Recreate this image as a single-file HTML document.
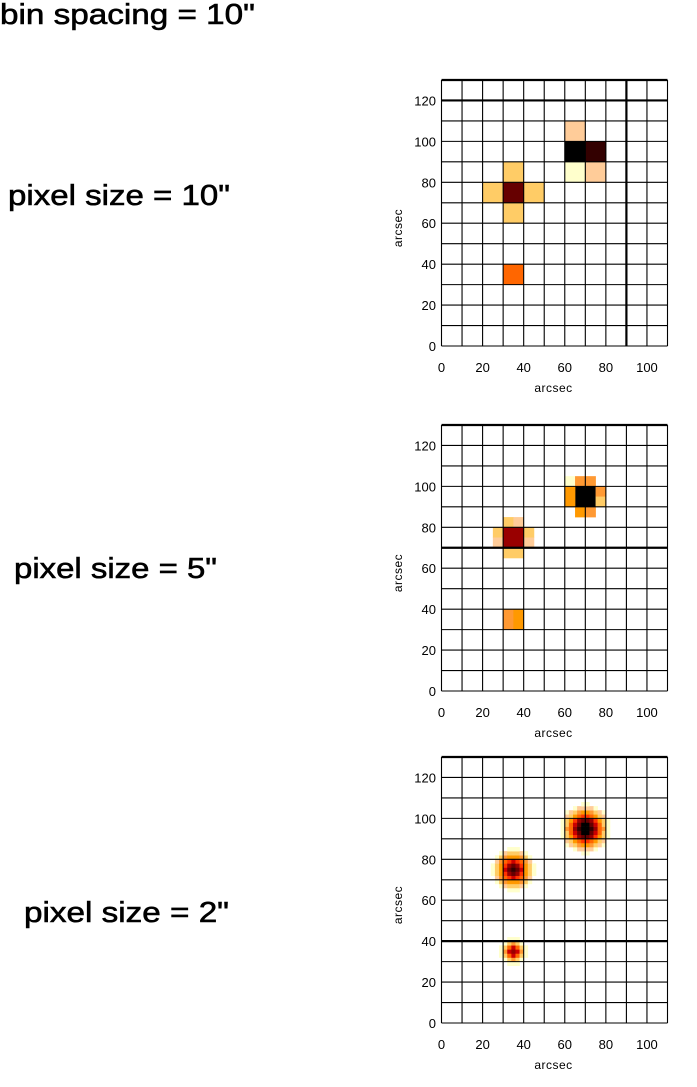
<!DOCTYPE html>
<html><head><meta charset="utf-8"><style>
html,body{margin:0;padding:0;background:#fff;}
svg{display:block;}
text{font-family:"Liberation Sans",Arial,sans-serif;fill:#000;}
</style></head><body>
<svg id="s" width="697" height="1087" viewBox="0 0 697 1087" xmlns="http://www.w3.org/2000/svg">
<rect width="697" height="1087" fill="#fff"/>
<g stroke="#000" stroke-width="0.6">
<text x="0" y="24" font-size="29" textLength="255" lengthAdjust="spacingAndGlyphs">bin spacing = 10"</text>
<text x="8" y="205" font-size="29" textLength="222" lengthAdjust="spacingAndGlyphs">pixel size = 10"</text>
<text x="14" y="578" font-size="29" textLength="203" lengthAdjust="spacingAndGlyphs">pixel size = 5"</text>
<text x="24" y="922" font-size="29" textLength="205" lengthAdjust="spacingAndGlyphs">pixel size = 2"</text>
</g>
<g id="plots"></g>
</svg>
<script>
var NS="http://www.w3.org/2000/svg",G=document.getElementById("plots");
function el(t,a,txt){var e=document.createElementNS(NS,t);for(var k in a)e.setAttribute(k,a[k]);if(txt!==undefined)e.textContent=txt;G.appendChild(e);return e;}
var L=441.5,W=226,H=266,sx=W/110,sy=H/130;
function plot(top,pix,thick){
  var B=top+H;
  function X(v){return L+v*sx;} function Y(v){return B-v*sy;}
  pix.forEach(function(p){el("rect",{x:X(p[0]),y:Y(p[1]+p[3]),width:p[2]*sx+0.3,height:p[3]*sy+0.3,fill:p[4]});});
  for(var i=0;i<=11;i++){var x=X(i*10);el("line",{x1:x,y1:top,x2:x,y2:B,stroke:"#000","stroke-width":(thick.x===i*10)?2.2:1.1});}
  for(var j=0;j<=13;j++){var y=Y(j*10);el("line",{x1:L,y1:y,x2:L+W,y2:y,stroke:"#000","stroke-width":(thick.y===j*10||j==13)?2.2:1.1});}
  for(var v=0;v<=100;v+=20)el("text",{x:X(v),y:B+26,"font-size":13,"text-anchor":"middle"},String(v));
  for(var v=0;v<=120;v+=20)el("text",{x:436,y:Y(v)+5,"font-size":13,"text-anchor":"end"},String(v));
  el("text",{x:L+W/2-1,y:B+46,"font-size":12,"text-anchor":"middle","letter-spacing":"0.5"},"arcsec");
  el("text",{x:0,y:0,"font-size":12,"text-anchor":"middle","letter-spacing":"0.5",transform:"translate(402,"+(top+H/2+15)+") rotate(-90)"},"arcsec");
}
var Y6="#ffcc66",P9="#ffcc99";
plot(80,[[60,100,10,10,P9],[60,90,10,10,"#000"],[70,90,10,10,"#330000"],[60,80,10,10,"#ffffcc"],[70,80,10,10,P9],
 [30,70,10,10,"#660000"],[20,70,10,10,Y6],[40,70,10,10,Y6],[30,80,10,10,Y6],[30,60,10,10,Y6],[30,30,10,10,"#ff6600"]],{x:90,y:120});
plot(425,[[60,100,5,5,"#ffffcc"],[65,100,5,5,"#ff9933"],[70,100,5,5,"#ff9933"],[65,90,10,10,"#000"],[60,90,5,10,"#ff9900"],
 [75,95,5,5,"#ff9933"],[75,90,5,5,Y6],[65,85,5,5,"#ff9900"],[70,85,5,5,"#ff9933"],
 [30,70,10,10,"#990000"],[30,80,5,5,Y6],[35,80,5,5,P9],[25,75,5,5,Y6],[25,70,5,5,P9],[40,75,5,5,Y6],[40,70,5,5,P9],[30,65,10,5,Y6],
 [30,35,5,5,"#ff9933"],[35,35,5,5,"#ff9900"],[30,30,5,5,"#ff9933"],[35,30,5,5,"#ff9900"]],{y:70});
var px=[],blobs=[[70,95,1.0,4.2],[35,75,0.75,3.8],[35,35,0.55,2.4]];
var cols=[[0.85,"#000"],[0.7,"#330000"],[0.58,"#660000"],[0.48,"#990000"],[0.38,"#cc0000"],[0.3,"#ff3300"],[0.22,"#ff6600"],[0.15,"#ff9900"],[0.1,"#ff9933"],[0.06,"#ffcc66"],[0.035,"#ffcc99"],[0.015,"#ffffcc"]];
for(var i=0;i<55;i++)for(var j=0;j<65;j++){var cx=i*2+1,cy=j*2+1,v=0;
 blobs.forEach(function(b){var d=(cx-b[0])*(cx-b[0])+(cy-b[1])*(cy-b[1]);v+=b[2]*Math.exp(-d/(2*b[3]*b[3]));});
 for(var k=0;k<cols.length;k++)if(v>=cols[k][0]){px.push([i*2,j*2,2,2,cols[k][1]]);break;}}
plot(757,px,{y:40});
</script>
</body></html>
